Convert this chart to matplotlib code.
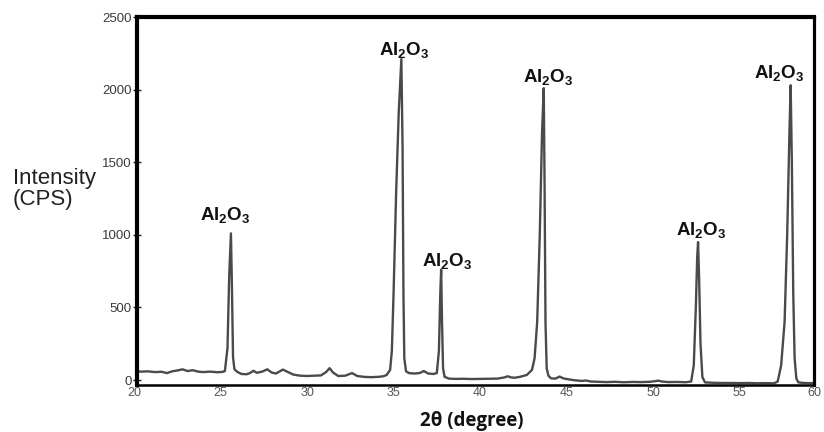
import matplotlib
matplotlib.use("Agg")
import matplotlib.pyplot as plt

plt.rcParams["mathtext.fontset"] = "custom"
plt.rcParams["mathtext.rm"] = "Liberation Sans:bold"
plt.rcParams["mathtext.it"] = "Liberation Sans:bold"
plt.rcParams["mathtext.bf"] = "Liberation Sans:bold"

# XRD pattern: diffraction angle (2θ, degree) vs intensity (CPS)
two_theta = [
    20.0, 20.4, 20.8, 21.2, 21.6, 21.9, 22.2, 22.5, 22.8, 23.1, 23.4, 23.7,
    24.0, 24.4, 24.8, 25.1, 25.25, 25.4, 25.5, 25.6, 25.66, 25.72, 25.8, 25.95,
    26.2, 26.5, 26.7, 26.9, 27.1, 27.4, 27.7, 27.95, 28.2, 28.6, 28.9, 29.2,
    29.6, 30.0, 30.4, 30.8, 31.1, 31.3, 31.5, 31.8, 32.2, 32.6, 32.9, 33.3,
    33.7, 34.1, 34.4, 34.6, 34.8, 34.9, 35.0, 35.15, 35.3, 35.45, 35.52, 35.57,
    35.62, 35.72, 35.9, 36.2, 36.5, 36.75, 37.0, 37.3, 37.5, 37.62, 37.7, 37.75,
    37.8, 37.86, 37.95, 38.2, 38.6, 39.0, 39.5, 40.0, 40.5, 41.0, 41.4, 41.6,
    41.8, 42.0, 42.3, 42.7, 43.0, 43.15, 43.3, 43.45, 43.58, 43.68, 43.73, 43.78,
    43.85, 43.95, 44.1, 44.35, 44.6, 44.8, 45.1, 45.5, 45.9, 46.1, 46.4, 46.8,
    47.3, 47.8, 48.3, 48.8, 49.3, 49.8, 50.1, 50.3, 50.5, 50.9, 51.4, 51.9,
    52.2, 52.35, 52.47, 52.55, 52.6, 52.66, 52.74, 52.85, 53.0, 53.5, 54.0, 54.5,
    55.0, 55.5, 56.0, 56.5, 57.0, 57.2, 57.4, 57.6, 57.75, 57.88, 57.95, 58.02,
    58.1, 58.18, 58.28, 58.4, 58.7, 59.0, 59.5,
]
counts = [
    62, 58, 60, 55, 57, 48, 60, 66, 74, 62, 68, 58,
    55, 58, 54, 56, 62, 220, 720, 1010, 620, 160, 75, 58,
    42, 40, 48, 64, 50, 58, 74, 52, 45, 72, 55, 38,
    30, 28, 30, 32, 55, 82, 52, 28, 30, 48, 28, 22,
    20, 22, 26, 35, 70, 200, 600, 1300, 1850, 2210, 1600, 600,
    150, 60, 48, 45, 48, 62, 45, 42, 48, 200, 600, 760,
    400, 80, 22, 10, 8, 9, 7, 8, 9, 10, 18, 26,
    18, 16, 22, 35, 70, 150, 400, 1000, 1700, 2010, 1300, 400,
    80, 30, 12, 10, 24, 12, 5, -2, -6, -3, -10, -12,
    -14, -12, -15, -13, -14, -12, -8, -4, -10, -14, -13, -15,
    -10, 100, 500, 850, 950, 700, 250, 20, -16, -19, -20, -20,
    -21, -20, -22, -21, -22, -10, 100, 400, 1000, 1700, 2030, 1500,
    600, 150, 10, -16, -20, -21, -22,
]

peak_angles = [25.6, 35.45, 37.75, 43.68, 52.6, 57.95]
peak_counts = [1010, 2210, 760, 2010, 950, 2030]
peak_label = r"$\mathrm{Al_2O_3}$"
label_offsets = [(-6, 18), (3, 9), (6, 9), (4, 11), (3, 12), (-11, 12)]

x_ticks = [20, 25, 30, 35, 40, 45, 50, 55, 60]
y_ticks = [0, 500, 1000, 1500, 2000, 2500]

fig = plt.figure(figsize=(8.24, 4.32), dpi=100)
ax = fig.add_axes([137 / 824, 1 - 385 / 432, 677 / 824, 368 / 432])

ax.plot(two_theta, counts, color="#4a4a4a", lw=1.7, solid_joinstyle="round")

x_min, x_max = 20.17, 59.3
ax.set_xlim(x_min, x_max)
ax.set_ylim(-34, 2500)

# frame
for side, lw in (("left", 3.0), ("top", 3.0), ("right", 2.3), ("bottom", 1.8)):
    ax.spines[side].set_linewidth(lw)
    ax.spines[side].set_color("black")

# y axis ticks
ax.set_yticks(y_ticks)
ax.set_yticklabels([str(v) for v in y_ticks], fontfamily="Liberation Sans",
                   fontsize=9.5, color="#3a3a3a")
ax.tick_params(axis="y", direction="inout", length=6, width=1.0, pad=1,
               color="#222222")

# x axis labels under the frame; the last one is held at the right edge
ax.set_xticks([])
xt = ax.get_xaxis_transform()
for t in x_ticks:
    ax.annotate(str(t), xy=(min(t, x_max), 0), xycoords=xt, xytext=(0, -2),
                textcoords="offset pixels", ha="center", va="top",
                fontfamily="Liberation Sans", fontsize=9, color="#555555",
                annotation_clip=False)

# peak labels
for px, py, (dx, dy) in zip(peak_angles, peak_counts, label_offsets):
    ax.annotate(peak_label, xy=(px, py), xytext=(dx, dy),
                textcoords="offset pixels", ha="center", va="center",
                fontsize=13.5, color="#111111")

fig.text(13 / 824, 1 - 189 / 432, "Intensity\n(CPS)", ha="left", va="center",
         fontfamily="Liberation Sans", fontsize=16, color="#222222",
         linespacing=1.05)
fig.text(472 / 824, 1 - 421 / 432, "2θ (degree)", ha="center", va="center",
         fontfamily=["Open Sans", "DejaVu Sans"], fontweight="bold",
         fontsize=13.5, color="#111111")

fig.savefig("out.png", dpi=100, facecolor="white")
